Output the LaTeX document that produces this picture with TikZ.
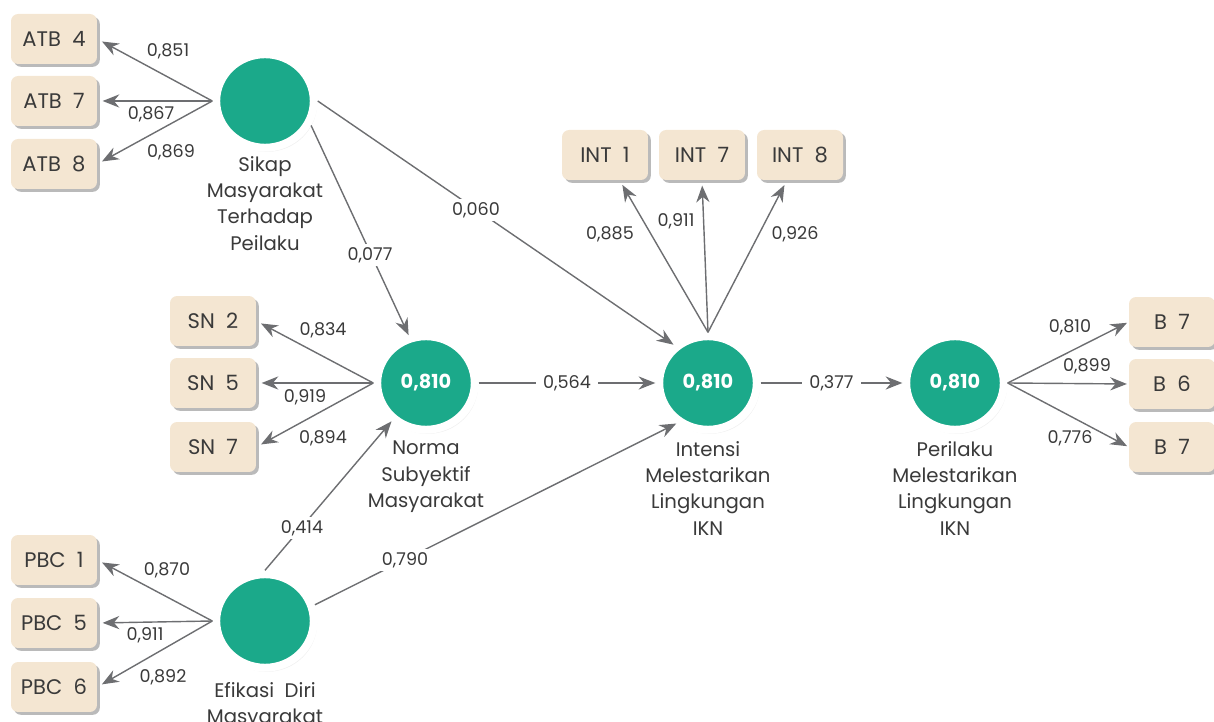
\documentclass[tikz,border=0pt]{standalone}
\usepackage{fontspec}
\setmainfont{Poppins}
\usetikzlibrary{shapes.geometric,shadows,arrows.meta}
\definecolor{boxfill}{HTML}{F4E6D2}
\definecolor{teal}{HTML}{1BA98A}
\definecolor{linec}{HTML}{6D6E71}
\definecolor{txt}{HTML}{3A3A3A}
\tikzset{
  ind/.style={draw=none,fill=boxfill,rounded corners=4pt,minimum width=1.72cm,minimum height=1.0cm,
    font=\fontsize{12pt}{14pt}\selectfont,text=txt,
    drop shadow={fill=black!45,opacity=0.6,shadow xshift=1.6pt,shadow yshift=-1.6pt}},
  lat/.style={ellipse,fill=teal,draw=white,line width=4.5pt,minimum width=1.95cm,minimum height=1.87cm,
    font=\bfseries\fontsize{11pt}{13pt}\selectfont,text=white,
    drop shadow={opacity=0.12,shadow xshift=1pt,shadow yshift=-1.5pt,shadow scale=1.03}},
  captxt/.style={align=center,font=\fontsize{11.2pt}{15pt}\selectfont,text=txt,anchor=north},
  val/.style={font=\fontsize{10pt}{12pt}\selectfont,text=txt,inner sep=1pt},
  valbg/.style={val,fill=white,inner sep=4pt},
  arr/.style={draw=linec,line width=0.8pt,-{Stealth[length=9.5pt,width=7.5pt]}},
}
\begin{document}
\begin{tikzpicture}[x=0.02cm,y=-0.02cm]
\useasboundingbox (0,0) rectangle (1214,722);
% indicators
\node[ind] (atb4) at (54,39) {ATB\ \ 4};
\node[ind] (atb7) at (54,101) {ATB\ \ 7};
\node[ind] (atb8) at (54,164) {ATB\ \ 8};
\node[ind] (sn2) at (213,321) {SN\ \ 2};
\node[ind] (sn5) at (213,383) {SN\ \ 5};
\node[ind] (sn7) at (213,447) {SN\ \ 7};
\node[ind] (pbc1) at (54,560) {PBC\ \ 1};
\node[ind] (pbc5) at (54,623) {PBC\ \ 5};
\node[ind] (pbc6) at (54,687) {PBC\ \ 6};
\node[ind] (int1) at (605,155) {INT\ \ 1};
\node[ind] (int7) at (702,155) {INT\ \ 7};
\node[ind] (int8) at (800,155) {INT\ \ 8};
\node[ind] (b7a) at (1172,322) {B\ \ 7};
\node[ind] (b6) at (1172,384) {B\ \ 6};
\node[ind] (b7b) at (1172,447) {B\ \ 7};
% latents
\node[lat] (sikap) at (265,101) {};
\node[lat] (norma) at (426,383) {0,810};
\node[lat] (intensi) at (708,383) {0,810};
\node[lat] (perilaku) at (955,383) {0,810};
\node[lat] (efikasi) at (265,621) {};
% captions
\node[captxt] (capsikap) at (265,150) {Sikap\\Masyarakat\\Terhadap\\Peilaku};
\node[captxt] (capnorma) at (426,435) {Norma\\Subyektif\\Masyarakat};
\node[captxt] (capint) at (708,435) {Intensi\\Melestarikan\\Lingkungan\\IKN};
\node[captxt] (capper) at (955,435) {Perilaku\\Melestarikan\\Lingkungan\\IKN};
\node[captxt] (capefi) at (265,676) {Efikasi\ \ Diri\\Masyarakat};
% outer loadings
\draw[arr,shorten >=3pt] (sikap.west) -- (atb4.east);
\draw[arr,shorten >=3pt] (sikap.west) -- (atb7.east);
\draw[arr,shorten >=3pt] (sikap.west) -- (atb8.east);
\draw[arr,shorten >=3pt] (norma.west) -- (sn2.east);
\draw[arr,shorten >=3pt] (norma.west) -- (sn5.east);
\draw[arr,shorten >=3pt] (norma.west) -- (sn7.east);
\draw[arr,shorten >=3pt] (efikasi.west) -- (pbc1.east);
\draw[arr,shorten >=3pt] (efikasi.west) -- (pbc5.east);
\draw[arr,shorten >=3pt] (efikasi.west) -- (pbc6.east);
\draw[arr,shorten >=3pt] (intensi.north) -- (int1);
\draw[arr,shorten >=3pt] (intensi.north) -- (int7.south);
\draw[arr,shorten >=3pt] (intensi.north) -- (int8);
\draw[arr,shorten >=1pt] (perilaku.east) -- (b7a.west);
\draw[arr,shorten >=1pt] (perilaku.east) -- (b6.west);
\draw[arr,shorten >=1pt] (perilaku.east) -- (b7b.west);
% structural paths
\draw[arr] (sikap.-28) -- (norma.110);
\draw[arr] (sikap.east) -- (intensi.132);
\draw[arr] (efikasi.north) -- (norma.228);
\draw[arr] (efikasi.18) -- (intensi.232);
\draw[arr] (norma.east) -- node[valbg] (v564) {0,564} (intensi.west);
\draw[arr] (intensi.east) -- node[valbg] (v377) {0,377} (perilaku.west);
% values
\node[val] (v851) at (168,51) {0,851};
\node[val] (v867) at (151,114) {0,867};
\node[val] (v869) at (171,152) {0,869};
\node[val] (v834) at (323,330) {0,834};
\node[val] (v919) at (305,397) {0,919};
\node[val] (v894) at (323,438) {0,894};
\node[val] (v870) at (167,570) {0,870};
\node[val] (v911b) at (145,635) {0,911};
\node[val] (v892) at (163,677) {0,892};
\node[val] (v885) at (610,234) {0,885};
\node[val] (v911) at (676,221) {0,911};
\node[val] (v926) at (795,234) {0,926};
\node[val] (v810) at (1070,327) {0,810};
\node[val] (v899) at (1087,366) {0,899};
\node[val] (v776) at (1070,438) {0,776};
\node[valbg,inner sep=2pt] (v077) at (370,255) {0,077};
\node[valbg,inner sep=2pt] (v060) at (476,210) {0,060};
\node[valbg,inner sep=2pt] (v414) at (302,528) {0,414};
\node[valbg,inner sep=2pt] (v790) at (405,560) {0,790};
\end{tikzpicture}
\end{document}
